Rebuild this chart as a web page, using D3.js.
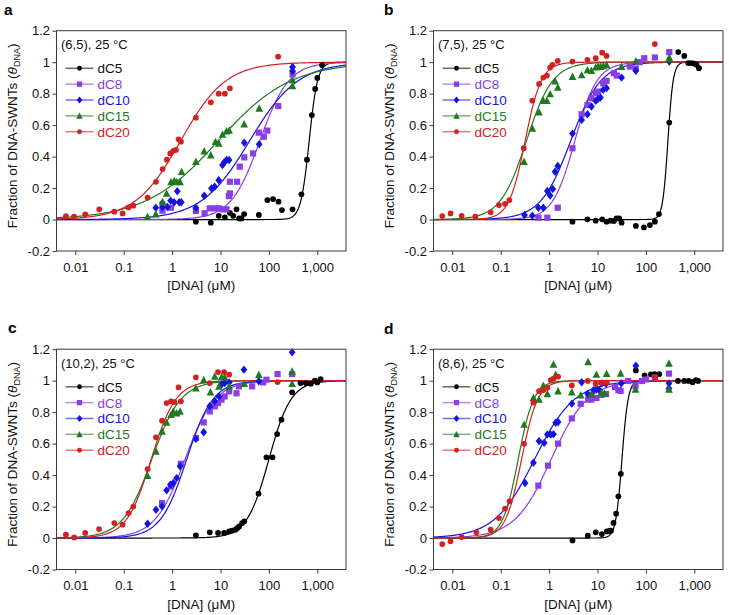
<!DOCTYPE html>
<html><head><meta charset="utf-8">
<script src="https://cdn.jsdelivr.net/npm/d3@7"></script>
<style>
body{margin:0;background:#fff}
text{font-family:"Liberation Sans",Arial,sans-serif}
</style>
</head><body>
<svg id="chart" width="729" height="615"></svg>
<script>
// ---------- shared labels ----------
const seriesNames = ["dC5","dC8","dC10","dC15","dC20"];
const seriesColors = ["#000000","#8a3ee4","#1414e0","#1f7a1f","#d42020"];
const seriesShapes = ["circle","square","diamond","triangle","circle"];
const xTickValues = [0.01,0.1,1,10,100,1000];
const xTickLabels = ["0.01","0.1","1","10","100","1,000"];
const yTickValues = [-0.2,0,0.2,0.4,0.6,0.8,1,1.2];
const yTickLabels = ["-0.2","0","0.2","0.4","0.6","0.8","1","1.2"];
const panelLetters = ["a","b","c","d"];
const panelTitles = ["(6,5), 25 °C","(7,5), 25 °C","(10,2), 25 °C","(8,6), 25 °C"];

// ---------- panel a : (6,5) ----------
const A_dC5 = [[3.1,-0.014],[6.3,-0.02],[9.2,0.024],[12.3,0.014],[15.6,0.043],[18.3,0.024],[21.4,0.065],[24.3,0.007],[27,0.007],[30.8,0.035],[62,0.029],[93,0.124],[122,0.13],[158,0.113],[186,0.06],[308,0.065],[470,0.16],[612,0.38],[771,0.664],[903,0.83],[1000,0.9],[1250,0.982]];
const A_dC8 = [[0.63,0.056],[0.95,0.075],[3.1,0.055],[4.7,0.04],[6,0.071],[7.6,0.071],[9.2,0.071],[11,0.065],[13.3,0.065],[14.9,0.149],[15.6,0.166],[15.6,0.24],[22,0.24],[25,0.336],[31,0.395],[47,0.42],[62,0.552],[78.5,0.526],[93,0.565],[156,0.721],[308,0.922]];
const A_dC10 = [[0.46,0.075],[0.63,0.08],[0.63,0.105],[0.8,0.08],[0.93,0.12],[1.1,0.11],[1.28,0.18],[1.4,0.11],[1.55,0.11],[3.1,0.075],[4.6,0.151],[6.5,0.198],[7.6,0.209],[9.2,0.25],[11,0.346],[11.9,0.363],[13.3,0.378],[15,0.378],[31,0.488],[63,0.478],[308,0.97],[308,0.944]];
const A_dC15 = [[0.31,0.018],[0.46,0.035],[0.637,0.113],[0.77,0.166],[0.95,0.24],[1.11,0.247],[1.24,0.24],[1.46,0.24],[1.57,0.304],[3.1,0.368],[4.6,0.435],[6.3,0.41],[7.9,0.495],[9.2,0.484],[11,0.541],[13.3,0.562],[15.1,0.567],[30.8,0.607],[63,0.707],[308,0.887],[308,0.849]];
const A_dC20 = [[0.0064,0.022],[0.0094,0.018],[0.0161,0.033],[0.0313,0.065],[0.064,0.05],[0.095,0.039],[0.126,0.077],[0.158,0.088],[0.312,0.139],[0.464,0.24],[0.637,0.321],[0.78,0.38],[0.918,0.42],[1.06,0.437],[1.2,0.442],[1.36,0.51],[1.52,0.495],[3.1,0.647],[6.3,0.745],[9.2,0.8],[12.3,0.8],[15.6,0.834],[155,1.035]];
// fitted Hill parameters [K (uM), n]
const A_fits = [[680,5],[65,1.45],[40,0.87],[9,0.58],[1.5,0.93]];

// ---------- panel b : (7,5) ----------
const B_dC5 = [[3.04,-0.014],[6.2,0.001],[9.2,-0.007],[12.5,0.001],[15.4,-0.014],[18.6,-0.007],[21.8,-0.01],[24.7,0.007],[28,0.007],[31.4,-0.02],[62,-0.041],[91,-0.05],[121,-0.035],[153,-0.014],[186,0.035],[304,0.616],[467,1.064],[621,1.04],[752,0.994],[881,0.994],[1000,0.99],[1117,0.983],[1250,0.962]];
const B_dC8 = [[0.6,0.012],[0.92,0.012],[1.51,0.075],[3.04,0.453],[4.7,0.669],[6.2,0.728],[7.5,0.771],[9.2,0.803],[10.3,0.813],[13.1,0.866],[15.4,0.881],[21.8,0.93],[25,0.915],[46.7,0.972],[62,0.96],[75,1.0],[92.5,1.025],[153,1.03],[304,1.064]];
const B_dC10 = [[0.31,0.029],[0.45,0.024],[0.6,0.075],[0.76,0.075],[0.92,0.181],[1.05,0.152],[1.19,0.194],[1.33,0.304],[1.51,0.34],[3.04,0.546],[4.7,0.633],[6.2,0.669],[7.5,0.718],[9.2,0.754],[10.3,0.767],[11.5,0.775],[13.1,0.824],[15.4,0.835],[31.4,0.902],[62,0.945],[304,1.004]];
const B_dC15 = [[0.304,0.368],[0.45,0.58],[0.62,0.682],[0.76,0.756],[0.9,0.756],[1.05,0.798],[1.33,0.88],[1.51,0.84],[3.04,0.909],[4.7,0.919],[6.2,0.951],[7.5,0.947],[9.2,0.968],[10.3,0.972],[11.5,0.972],[13.1,0.977],[15.4,0.983],[31.4,0.972],[62,1.008],[304,1.02],[304,1.03]];
const B_dC20 = [[0.0062,0.022],[0.0092,0.039],[0.0156,0.024],[0.03,0.018],[0.062,0.046],[0.092,0.092],[0.123,0.1],[0.151,0.124],[0.3,0.453],[0.45,0.756],[0.62,0.862],[0.76,0.902],[0.9,0.915],[1.05,0.966],[1.17,0.983],[1.51,1.008],[3.04,1.004],[6.2,1.015],[9.2,1.025],[12.5,1.06],[15.4,1.04],[153,1.115]];
const B_fits = [[285,8],[3.4,1.9],[2.8,1.4],[0.34,1.6],[0.32,2.6]];

// ---------- panel c : (10,2) ----------
const C_dC5 = [[3.1,0.017],[6,0.036],[8.9,0.032],[11.9,0.032],[15.1,0.042],[17.4,0.047],[20.4,0.053],[22.4,0.064],[24.3,0.074],[28,0.095],[31,0.106],[61,0.282],[89,0.513],[119,0.513],[148,0.661],[182,0.752],[302,0.926],[450,0.985],[580,0.985],[735,0.981],[890,1.0],[1000,0.989],[1170,1.01]];
const C_dC8 = [[0.62,0.222],[0.95,0.328],[1.52,0.472],[3.1,0.636],[4.5,0.735],[6,0.805],[7.6,0.837],[8.9,0.858],[10.5,0.879],[12.2,0.9],[15.1,0.932],[21.4,0.92],[24,0.964],[45,0.964],[76,0.989],[89,1.006],[151,1.042],[302,1.042]];
const C_dC10 = [[0.312,0.091],[0.464,0.18],[0.62,0.201],[0.77,0.303],[0.92,0.339],[1.06,0.35],[1.24,0.381],[1.46,0.456],[3.1,0.63],[4.5,0.672],[6,0.837],[7.6,0.869],[9.3,0.9],[10.5,0.975],[12.2,0.985],[15.1,0.989],[30.5,1.07],[62,0.996],[302,1.18]];
const C_dC15 = [[0.312,0.396],[0.464,0.551],[0.62,0.678],[0.77,0.735],[0.95,0.784],[1.06,0.805],[1.24,0.794],[1.46,0.805],[3.1,0.953],[4.5,1.006],[6.2,0.928],[7.6,1.028],[9.3,0.964],[10.5,1.023],[12.2,1.023],[15.1,0.964],[31,0.981],[62,1.038],[302,1.06],[302,0.981]];
const C_dC20 = [[0.0064,0.021],[0.0095,0.004],[0.016,0.032],[0.031,0.057],[0.064,0.095],[0.095,0.085],[0.126,0.159],[0.158,0.2],[0.312,0.438],[0.464,0.64],[0.62,0.746],[0.77,0.858],[0.95,0.869],[1.11,0.864],[1.36,0.958],[1.52,0.869],[3.1,1.021],[6,0.985],[8.9,1.055],[11.9,1.055],[15.1,1.038],[151,0.991]];
const C_fits = [[100,1.9],[1.85,1.4],[2.0,1.6],[0.38,1.45],[0.37,1.7]];

// ---------- panel d : (8,6) ----------
const D_dC5 = [[3.04,-0.015],[6.3,0.015],[9.2,0.036],[12.3,0.025],[15.6,0.042],[17.7,0.045],[19,0.047],[21.4,0.096],[24.3,0.155],[27,0.265],[30.4,0.408],[62,1.065],[94,1.034],[127,1.04],[151,1.042],[189,1.042],[459,0.998],[621,0.998],[764,0.998],[924,0.99],[1082,1.004],[1200,0.998]];
const D_dC8 = [[0.6,0.333],[0.95,0.46],[1.53,0.6],[2.95,0.76],[4.5,0.853],[6.4,0.88],[7.5,0.88],[9.5,0.89],[12,0.91],[15,0.915],[23,0.96],[27,0.94],[30,0.935],[43,0.998],[61,0.966],[83,0.998],[100,1.008],[153,1.02],[300,1.045]];
const D_dC10 = [[0.318,0.35],[0.474,0.478],[0.62,0.616],[0.79,0.605],[0.92,0.658],[1.08,0.658],[1.23,0.66],[1.37,0.733],[1.53,0.737],[2.95,0.854],[4.7,0.99],[6.3,0.915],[8.3,0.94],[9.5,0.945],[11,0.94],[12.3,0.983],[15,0.98],[31,0.983],[62,1.095],[300,0.983],[300,0.95]];
const D_dC15 = [[0.304,0.722],[0.474,0.892],[0.62,0.881],[0.76,0.97],[0.92,0.917],[1.23,1.104],[1.37,1.04],[1.53,0.934],[2.95,0.928],[4.5,0.909],[6.4,1.12],[7.5,0.917],[9.5,1.04],[12.1,0.924],[14,0.92],[15.4,1.045],[30,1.047],[61,0.945],[300,1.11],[300,0.945]];
const D_dC20 = [[0.0062,-0.038],[0.0092,-0.021],[0.0156,0.006],[0.0314,0.036],[0.062,0.053],[0.092,0.127],[0.123,0.187],[0.153,0.234],[0.304,0.599],[0.474,0.86],[0.62,0.934],[0.76,0.94],[0.92,0.955],[1.08,1.004],[1.23,1.013],[1.53,1.025],[2.95,0.97],[6.3,0.998],[9.2,0.981],[11.9,0.987],[15.6,0.987],[156,1.02]];
const D_fits = [[32,6.8],[1.1,1.16],[0.5,1.05],[0.23,2.7],[0.27,2.6]];

const panelData = [
  [A_dC5,A_dC8,A_dC10,A_dC15,A_dC20],
  [B_dC5,B_dC8,B_dC10,B_dC15,B_dC20],
  [C_dC5,C_dC8,C_dC10,C_dC15,C_dC20],
  [D_dC5,D_dC8,D_dC10,D_dC15,D_dC20]
];
const panelFits = [A_fits,B_fits,C_fits,D_fits];

// ---------- layout ----------
const W = 289.5, H = 220.3;
const layout = [
  {left:56.5, top:30.7, lx:4, ly:15},
  {left:433.5, top:30.7, lx:384, ly:15},
  {left:56.5, top:349.2, lx:8, ly:333},
  {left:433.5, top:349.2, lx:384, ly:334}
];
const firstTickOffset = 18.8, decadePx = 48.4;

const svg = d3.select("#chart");
const frameColor = "#3a3a3a";

function markerPath(shape, s){
  if (shape === "circle") return d3.symbol(d3.symbolCircle, 26*s*s)();
  if (shape === "square") { const h = 3.1*s; return `M${-h},${-h}H${h}V${h}H${-h}Z`; }
  if (shape === "diamond") { const w = 3.4*s, h = 4.2*s; return `M0,${-h}L${w},0L0,${h}L${-w},0Z`; }
  if (shape === "triangle") { const w = 3.8*s, h = 3.4*s; return `M0,${-h-0.6*s}L${w},${h}L${-w},${h}Z`; }
}

layout.forEach((L, p) => {
  const lo = Math.pow(10, -2 - firstTickOffset/decadePx);
  const hi = Math.pow(10, -2 + (W - firstTickOffset)/decadePx);
  const x = d3.scaleLog().domain([lo, hi]).range([L.left, L.left + W]);
  const y = d3.scaleLinear().domain([-0.2, 1.2]).range([L.top + H, L.top]);
  const g = svg.append("g");

  const clipId = "clip" + p;
  svg.append("clipPath").attr("id", clipId).append("rect")
    .attr("x", L.left).attr("y", L.top).attr("width", W).attr("height", H);

  // axes
  const xa = g.append("g").attr("transform", `translate(0,${L.top + H})`)
    .call(d3.axisBottom(x).tickValues(xTickValues).tickFormat((d,i)=>xTickLabels[i]).tickSize(4).tickPadding(7.6).tickSizeOuter(0));
  const ya = g.append("g").attr("transform", `translate(${L.left},0)`)
    .call(d3.axisLeft(y).tickValues(yTickValues).tickFormat((d,i)=>yTickLabels[i]).tickSize(4).tickPadding(2.5).tickSizeOuter(0));
  [xa, ya].forEach(a => {
    a.select(".domain").remove();
    a.selectAll("line").attr("stroke", frameColor);
    a.selectAll("text").attr("font-size", 13).attr("fill", "#111").attr("font-family", '"Liberation Sans",Arial,sans-serif');
  });

  // fitted curves
  const curveG = g.append("g").attr("clip-path", `url(#${clipId})`);
  const logGrid = d3.range(0, 401).map(i => Math.pow(10, Math.log10(lo) + (Math.log10(hi) - Math.log10(lo)) * i / 400));
  const line = d3.line().x(d => x(d[0])).y(d => y(d[1]));
  panelFits[p].forEach((f, s) => {
    const pts = logGrid.map(c => [c, 1 / (1 + Math.pow(f[0] / c, f[1]))]);
    curveG.append("path").attr("d", line(pts)).attr("fill", "none")
      .attr("stroke", seriesColors[s]).attr("stroke-width", 1.2);
  });

  // data markers
  panelData[p].forEach((series, s) => {
    g.append("g").selectAll("path").data(series).join("path")
      .attr("d", markerPath(seriesShapes[s], 1))
      .attr("transform", d => `translate(${x(d[0])},${y(d[1])})`)
      .attr("fill", seriesColors[s]);
  });

  // frame
  g.append("rect").attr("x", L.left).attr("y", L.top).attr("width", W).attr("height", H)
    .attr("fill", "none").attr("stroke", frameColor).attr("stroke-width", 1);

  // title inside
  g.append("text").attr("x", L.left + 4.5).attr("y", L.top + 18.5)
    .attr("font-size", 13).attr("fill", "#111").text(panelTitles[p]);

  // legend
  seriesNames.forEach((name, s) => {
    const ly = L.top + 37.6 + s * 15.85;
    g.append("line").attr("x1", L.left + 9).attr("x2", L.left + 37).attr("y1", ly).attr("y2", ly)
      .attr("stroke", seriesColors[s]).attr("stroke-width", 1.5).attr("stroke-opacity", 0.6);
    g.append("path").attr("d", markerPath(seriesShapes[s], 0.85))
      .attr("transform", `translate(${L.left + 23},${ly})`).attr("fill", seriesColors[s]);
    g.append("text").attr("x", L.left + 41).attr("y", ly).attr("dy", "0.36em")
      .attr("font-size", 13.5).attr("fill", s === 0 ? "#111" : seriesColors[s]).text(name);
  });

  // axis titles
  g.append("text").attr("x", L.left + W / 2).attr("y", L.top + H + 39)
    .attr("text-anchor", "middle").attr("font-size", 13.5).attr("fill", "#111")
    .text("[DNA] (μM)");
  const yt = g.append("text")
    .attr("transform", `translate(${L.left - 40},${L.top + H / 2 - 5}) rotate(-90)`)
    .attr("text-anchor", "middle").attr("font-size", 13.5).attr("fill", "#111");
  yt.append("tspan").text("Fraction of DNA-SWNTs (");
  yt.append("tspan").attr("font-style", "italic").text("θ");
  yt.append("tspan").attr("font-size", 9).attr("dy", 3).text("DNA");
  yt.append("tspan").attr("dy", -3).text(")");

  // panel letter
  svg.append("text").attr("x", L.lx).attr("y", L.ly).attr("font-size", 15.5)
    .attr("font-weight", "bold").attr("fill", "#000").text(panelLetters[p]);
});
</script>
</body></html>
